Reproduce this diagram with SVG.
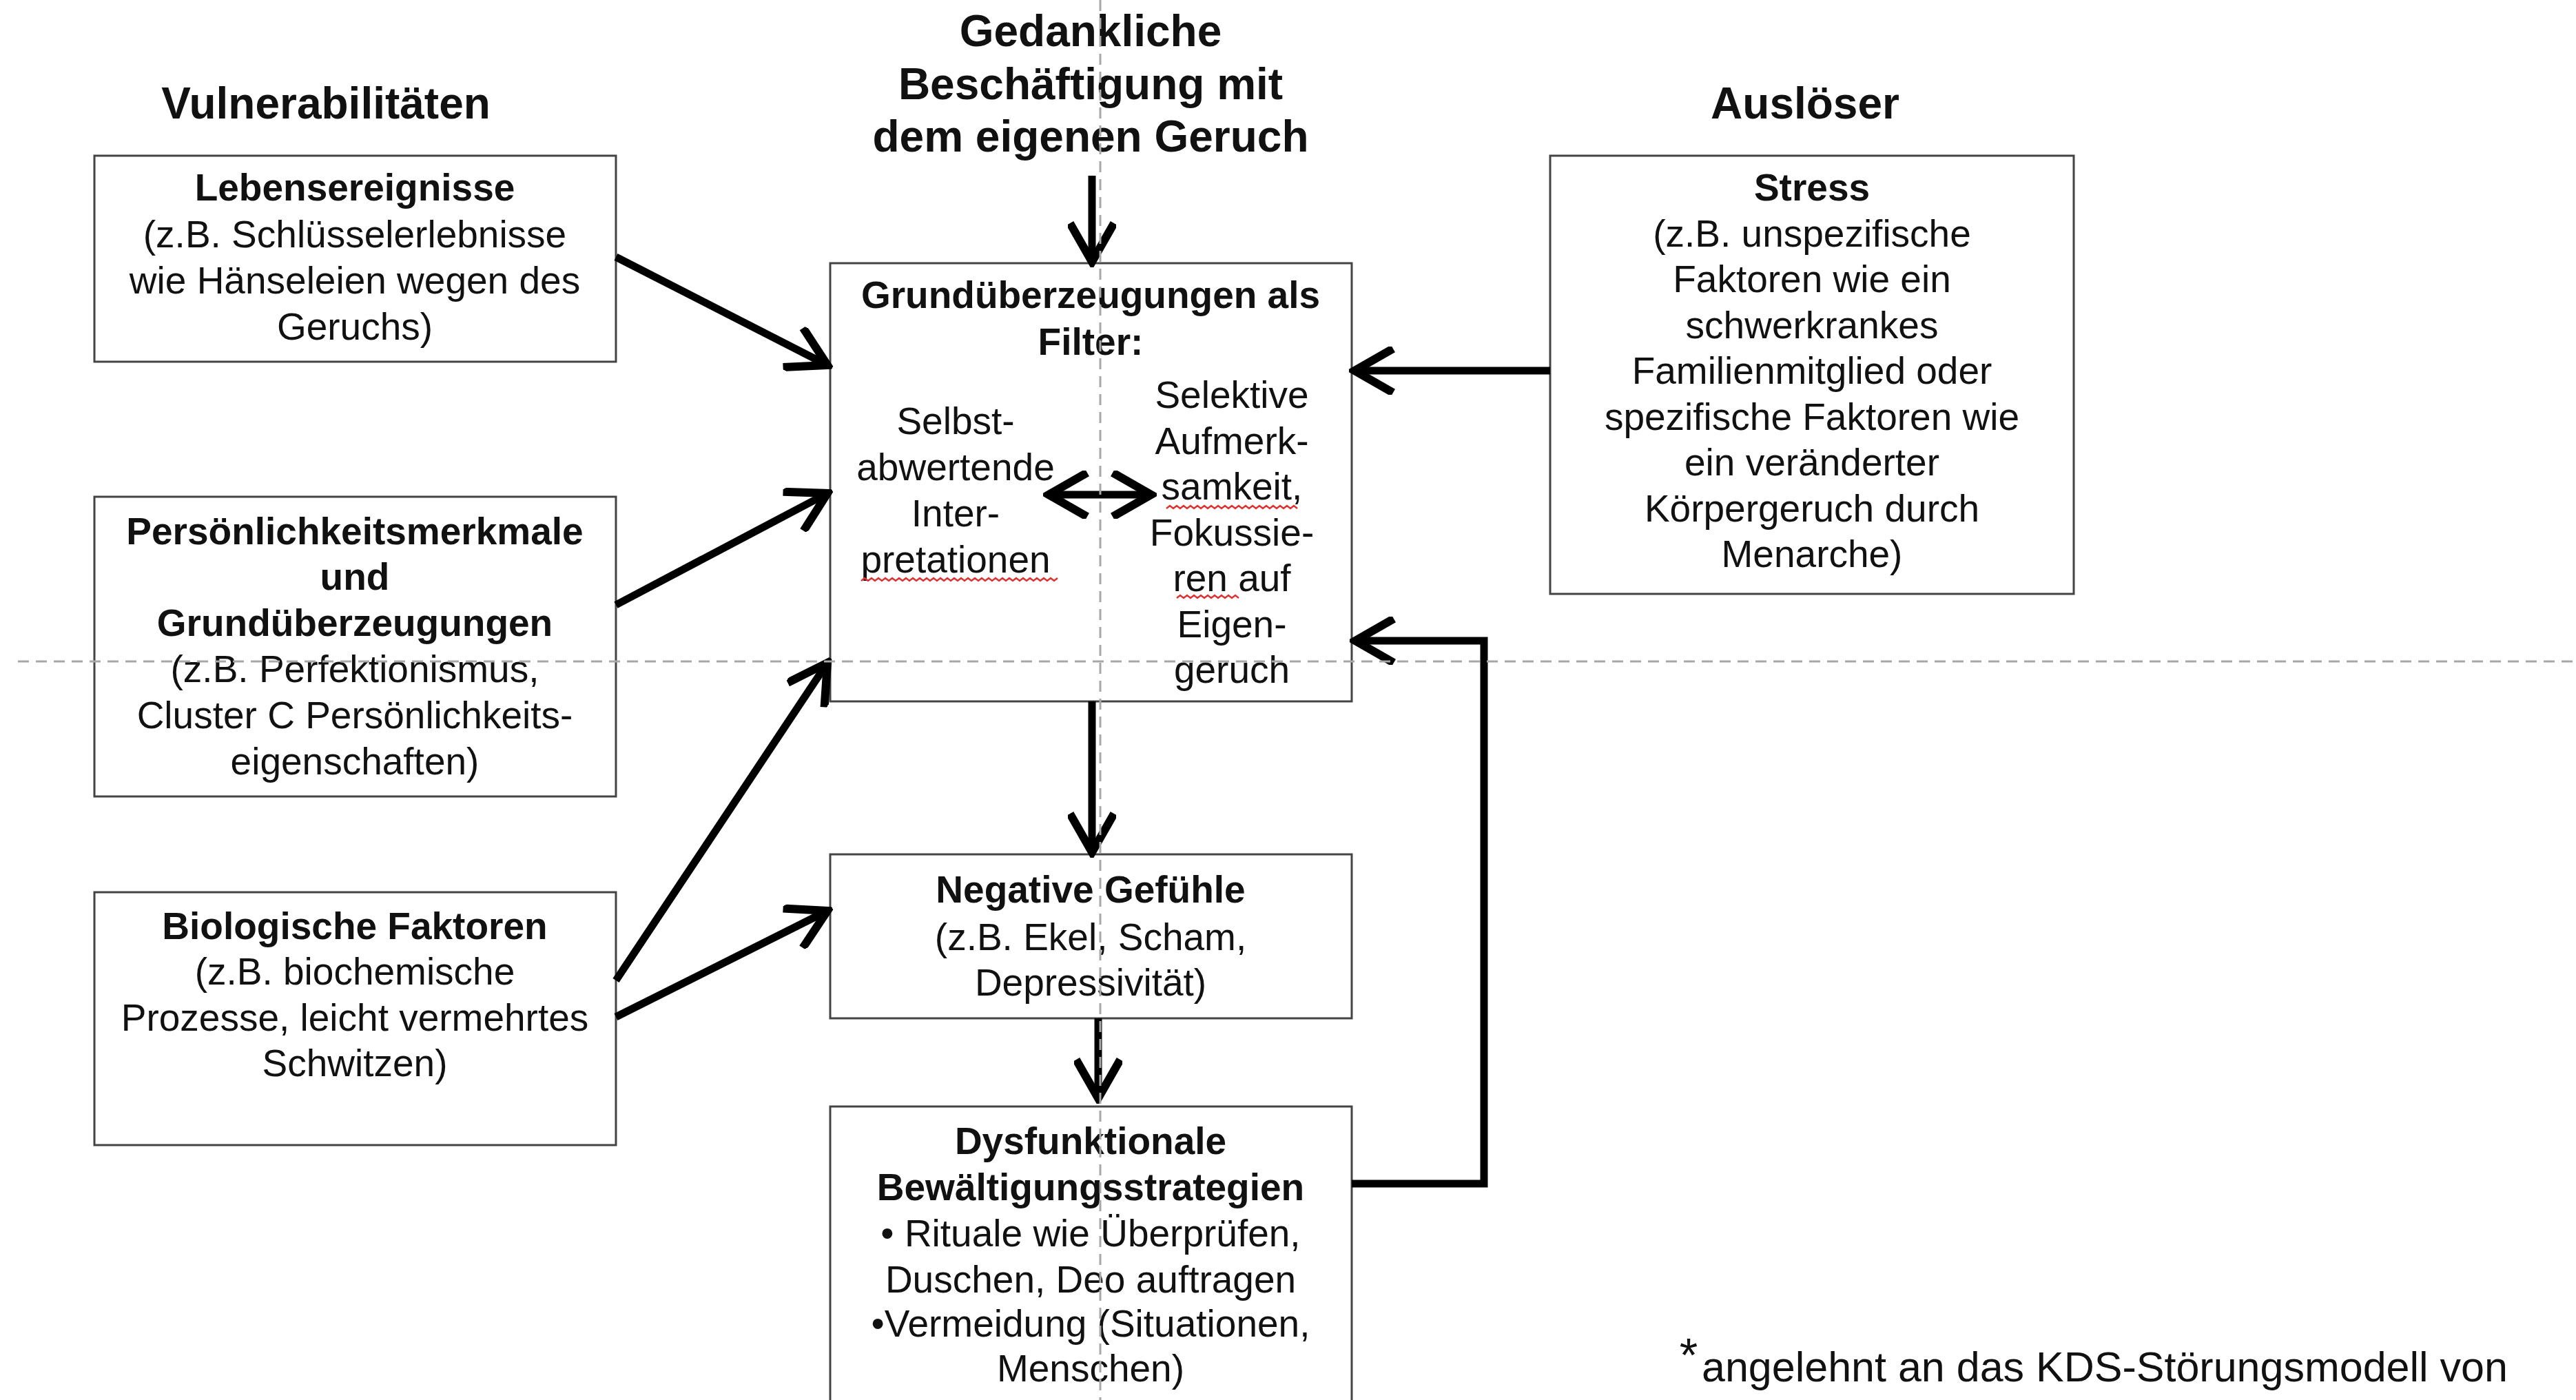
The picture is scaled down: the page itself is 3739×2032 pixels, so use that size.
<svg xmlns="http://www.w3.org/2000/svg" width="3739" height="2032" viewBox="0 0 3739 2032">
<style>
text{font-family:"Liberation Sans",Arial,sans-serif;fill:#111;text-anchor:middle}
.h{font-size:64px;font-weight:bold}
.t{font-size:55px;font-weight:bold}
.r{font-size:55px}
.box{fill:#fff;stroke:#444;stroke-width:3}
.con{fill:none;stroke:#000;stroke-width:11}
.guide{fill:none;stroke:#a8a8a8;stroke-width:3;stroke-dasharray:16 10}
.sp{fill:none;stroke:#e03030;stroke-width:2.5}
</style>
<defs>
<marker id="ah" markerUnits="userSpaceOnUse" viewBox="0 0 70 70" markerWidth="70" markerHeight="70" refX="62" refY="35" orient="auto-start-reverse">
<path d="M6,3 L62,35 L6,67" fill="none" stroke="#000" stroke-width="12"/>
</marker>
</defs>
<rect width="3739" height="2032" fill="#fff"/>

<g id="title-vulnerabilitaeten"><text class="h" x="473" y="172">Vulnerabilitäten</text></g>
<g id="title-ausloeser"><text class="h" x="2620" y="172">Auslöser</text></g>
<g id="title-gedankliche">
<text class="h" x="1583" y="67">Gedankliche</text>
<text class="h" x="1583" y="144">Beschäftigung mit</text>
<text class="h" x="1583" y="220">dem eigenen Geruch</text>
</g>

<g id="node-lebensereignisse">
<rect class="box" x="137" y="226" width="757" height="299"/>
<text class="t" x="515" y="291">Lebensereignisse</text>
<text class="r" x="515" y="359">(z.B. Schlüsselerlebnisse</text>
<text class="r" x="515" y="426">wie Hänseleien wegen des</text>
<text class="r" x="515" y="493">Geruchs)</text>
</g>

<g id="node-persoenlichkeit">
<rect class="box" x="137" y="721" width="757" height="435"/>
<text class="t" x="515" y="790">Persönlichkeitsmerkmale</text>
<text class="t" x="515" y="856">und</text>
<text class="t" x="515" y="923">Grundüberzeugungen</text>
<text class="r" x="515" y="990">(z.B. Perfektionismus,</text>
<text class="r" x="515" y="1057">Cluster C Persönlichkeits-</text>
<text class="r" x="515" y="1124">eigenschaften)</text>
</g>

<g id="node-biologisch">
<rect class="box" x="137" y="1295" width="757" height="367"/>
<text class="t" x="515" y="1363">Biologische Faktoren</text>
<text class="r" x="515" y="1429">(z.B. biochemische</text>
<text class="r" x="515" y="1496">Prozesse, leicht vermehrtes</text>
<text class="r" x="515" y="1562">Schwitzen)</text>
</g>

<g id="node-stress">
<rect class="box" x="2250" y="226" width="760" height="636"/>
<text class="t" x="2630" y="291">Stress</text>
<text class="r" x="2630" y="358">(z.B. unspezifische</text>
<text class="r" x="2630" y="424">Faktoren wie ein</text>
<text class="r" x="2630" y="491">schwerkrankes</text>
<text class="r" x="2630" y="557">Familienmitglied oder</text>
<text class="r" x="2630" y="624">spezifische Faktoren wie</text>
<text class="r" x="2630" y="690">ein veränderter</text>
<text class="r" x="2630" y="757">Körpergeruch durch</text>
<text class="r" x="2630" y="823">Menarche)</text>
</g>

<g id="node-filter">
<rect class="box" x="1205" y="382" width="757" height="636"/>
<text class="t" x="1583" y="447">Grundüberzeugungen als</text>
<text class="t" x="1583" y="515">Filter:</text>
<text class="r" x="1387" y="630">Selbst-</text>
<text class="r" x="1387" y="697">abwertende</text>
<text class="r" x="1387" y="764">Inter-</text>
<text class="r" x="1387" y="831">pretationen</text>
<text class="r" x="1788" y="592">Selektive</text>
<text class="r" x="1788" y="659">Aufmerk-</text>
<text class="r" x="1788" y="725">samkeit,</text>
<text class="r" x="1788" y="792">Fokussie-</text>
<text class="r" x="1788" y="858">ren auf</text>
<text class="r" x="1788" y="925">Eigen-</text>
<text class="r" x="1788" y="991">geruch</text>
<path class="sp" d="M1250,843 l5,-4 l5,4 l5,-4 l5,4 l5,-4 l5,4 l5,-4 l5,4 l5,-4 l5,4 l5,-4 l5,4 l5,-4 l5,4 l5,-4 l5,4 l5,-4 l5,4 l5,-4 l5,4 l5,-4 l5,4 l5,-4 l5,4 l5,-4 l5,4 l5,-4 l5,4 l5,-4 l5,4 l5,-4 l5,4 l5,-4 l5,4 l5,-4 l5,4 l5,-4 l5,4 l5,-4 l5,4 l5,-4 l5,4 l5,-4 l5,4 l5,-4 l5,4 l5,-4 l5,4 l5,-4 l5,4 l5,-4 l5,4 l5,-4 l5,4 l5,-4 l5,4 l5,-4"/>
<path class="sp" d="M1693,738 l5,-4 l5,4 l5,-4 l5,4 l5,-4 l5,4 l5,-4 l5,4 l5,-4 l5,4 l5,-4 l5,4 l5,-4 l5,4 l5,-4 l5,4 l5,-4 l5,4 l5,-4 l5,4 l5,-4 l5,4 l5,-4 l5,4 l5,-4 l5,4 l5,-4 l5,4 l5,-4 l5,4 l5,-4 l5,4 l5,-4 l5,4 l5,-4 l5,4 l5,-4 l5,4"/>
<path class="sp" d="M1708,868 l5,-4 l5,4 l5,-4 l5,4 l5,-4 l5,4 l5,-4 l5,4 l5,-4 l5,4 l5,-4 l5,4 l5,-4 l5,4 l5,-4 l5,4 l5,-4 l5,4"/>
</g>

<g id="node-negativ">
<rect class="box" x="1205" y="1240" width="757" height="238"/>
<text class="t" x="1583" y="1310">Negative Gefühle</text>
<text class="r" x="1583" y="1379">(z.B. Ekel, Scham,</text>
<text class="r" x="1583" y="1445">Depressivität)</text>
</g>

<g id="node-dysfunktional">
<rect class="box" x="1205" y="1606" width="757" height="460"/>
<text class="t" x="1583" y="1675">Dysfunktionale</text>
<text class="t" x="1583" y="1742">Bewältigungsstrategien</text>
<text class="r" x="1583" y="1809">• Rituale wie Überprüfen,</text>
<text class="r" x="1583" y="1876">Duschen, Deo auftragen</text>
<text class="r" x="1583" y="1940">•Vermeidung (Situationen,</text>
<text class="r" x="1583" y="2005">Menschen)</text>
</g>

<g id="connectors">
<line class="con" x1="1585" y1="255" x2="1585" y2="380" marker-end="url(#ah)"/>
<line class="con" x1="894" y1="373" x2="1201" y2="530" marker-end="url(#ah)"/>
<line class="con" x1="894" y1="878" x2="1201" y2="716" marker-end="url(#ah)"/>
<line class="con" x1="894" y1="1423" x2="1201" y2="962" marker-end="url(#ah)"/>
<line class="con" x1="894" y1="1476" x2="1201" y2="1322" marker-end="url(#ah)"/>
<line class="con" x1="2250" y1="538" x2="1966" y2="538" marker-end="url(#ah)"/>
<line class="con" x1="1522" y1="718" x2="1671" y2="718" marker-start="url(#ah)" marker-end="url(#ah)"/>
<line class="con" x1="1585" y1="1018" x2="1585" y2="1237" marker-end="url(#ah)"/>
<line class="con" x1="1594" y1="1478" x2="1594" y2="1594" marker-end="url(#ah)"/>
<path class="con" d="M1962,1718 H2154 V930 H1967" marker-end="url(#ah)"/>
</g>

<g id="footnote">
<text class="r" x="2451" y="1990" style="font-size:68px">*</text>
<text class="r" x="2470" y="2005" style="text-anchor:start;font-size:61px">angelehnt an das KDS-Störungsmodell von</text>
</g>

<g id="guides">
<line class="guide" x1="1597" y1="0" x2="1597" y2="2032"/>
<line class="guide" x1="26" y1="960" x2="3739" y2="960"/>
</g>
</svg>
